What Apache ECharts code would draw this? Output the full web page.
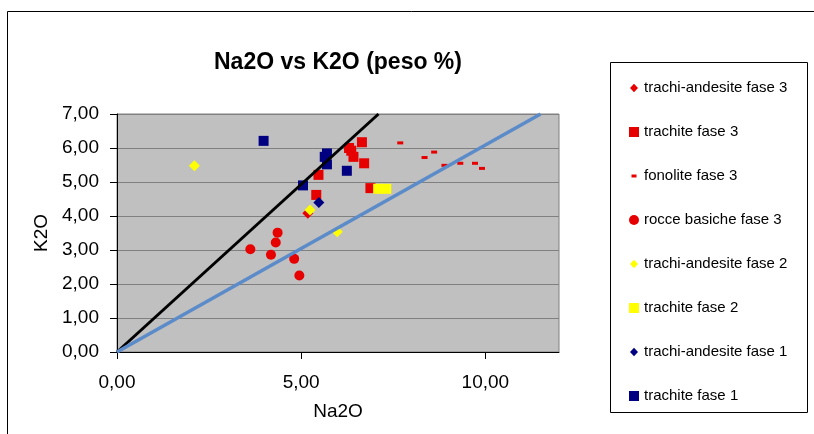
<!DOCTYPE html>
<html>
<head>
<meta charset="utf-8">
<script src="https://cdn.jsdelivr.net/npm/echarts@6/dist/echarts.min.js"></script>
<style>
html,body{margin:0;padding:0;background:#fff;}
#c{width:814px;height:434px;}
</style>
</head>
<body>
<div id="c"></div>
<script>
// ---- data ----
const xTicks = [0, 5, 10];
const yTicks = [0, 1, 2, 3, 4, 5, 6, 7];
const seriesNames = [
  'trachi-andesite fase 3', 'trachite fase 3', 'fonolite fase 3', 'rocce basiche fase 3',
  'trachi-andesite fase 2', 'trachite fase 2', 'trachi-andesite fase 1', 'trachite fase 1'
];
const trachiAndesite3 = [[5.18, 4.08]];
const trachite3 = [[5.47, 5.21], [5.41, 4.62], [6.65, 6.17], [6.30, 6.00], [6.36, 5.92], [6.42, 5.74], [6.71, 5.55], [6.88, 4.82]];
const fonolite3 = [[7.69, 6.15], [8.35, 5.72], [8.61, 5.88], [8.89, 5.49], [9.32, 5.55], [9.72, 5.55], [9.91, 5.40]];
const rocceBasiche3 = [[3.62, 3.02], [4.36, 3.51], [4.31, 3.22], [4.18, 2.86], [4.81, 2.74], [4.95, 2.25]];
const trachiAndesite2 = [[2.10, 5.48], [5.24, 4.18], [5.98, 3.54]];
const trachite2 = [[7.09, 4.80], [7.31, 4.80]];
const trachiAndesite1 = [[5.48, 4.40]];
const trachite1 = [[3.98, 6.21], [5.70, 5.84], [5.64, 5.74], [5.70, 5.52], [5.05, 4.90], [6.24, 5.33]];
const lineBlack = [[0, 0], [7.1, 7.0]];
const lineBlue = [[0, 0], [11.5, 7.0]];

// ---- styles ----
const RED = '#E60000', NAVY = '#000080', YEL = '#FFFF00';
const fmt = v => v.toFixed(2).replace('.', ',');
const FONT = 'Liberation Sans, Arial, sans-serif';
const diamondIcon = 'path://M0,0M10,10M5,0.8L9,5L5,9.2L1,5Z';
const dashIcon = 'path://M0,0M10,10M2.5,3.5L7.5,3.5L7.5,6.5L2.5,6.5Z';

function sc(name, data, symbol, size, color) {
  return { name, type: 'scatter', data, symbol, symbolSize: size,
    itemStyle: { color, opacity: 1 }, z: 3, emphasis: { disabled: true } };
}

const chart = echarts.init(document.getElementById('c'), null, { renderer: 'canvas' });
chart.setOption({
  animation: false,
  backgroundColor: '#fff',
  title: {
    text: 'Na2O vs K2O (peso %)', left: 214, top: 51, padding: 0,
    textStyle: { fontFamily: FONT, fontSize: 23, fontWeight: 'bold', color: '#000' }
  },
  graphic: [
    { type: 'rect', shape: { x: 7.5, y: 11.5, width: 900, height: 500 }, style: { fill: 'none', stroke: '#000', lineWidth: 1 }, z: -10, silent: true },
    { type: 'rect', shape: { x: 610.5, y: 62.5, width: 197, height: 350 }, style: { fill: '#fff', stroke: '#000', lineWidth: 1 }, z: -5, silent: true }
  ],
  legend: {
    orient: 'vertical', left: 624, top: 75, itemGap: 28,
    itemWidth: 10, itemHeight: 10,
    textStyle: { fontFamily: FONT, fontSize: 15, color: '#000', lineHeight: 16 },
    data: [
      { name: seriesNames[0], icon: diamondIcon },
      { name: seriesNames[1], icon: 'rect' },
      { name: seriesNames[2], icon: dashIcon },
      { name: seriesNames[3], icon: 'circle' },
      { name: seriesNames[4], icon: diamondIcon },
      { name: seriesNames[5], icon: 'rect' },
      { name: seriesNames[6], icon: diamondIcon },
      { name: seriesNames[7], icon: 'rect' }
    ]
  },
  grid: { left: 117, top: 114, width: 442, height: 238, show: true, backgroundColor: '#C0C0C0', borderColor: '#808080', borderWidth: 1 },
  xAxis: {
    type: 'value', min: 0, max: 12, interval: 5,
    name: 'Na2O', nameLocation: 'middle', nameGap: 50,
    nameTextStyle: { fontFamily: FONT, fontSize: 19, color: '#000' },
    axisLine: { onZero: false, lineStyle: { color: '#000', width: 1 } },
    axisTick: { show: true, length: 7, customValues: xTicks, lineStyle: { color: '#000' } },
    axisLabel: { margin: 21, customValues: xTicks, formatter: fmt, fontFamily: FONT, fontSize: 19, color: '#000' },
    splitLine: { show: false }
  },
  yAxis: {
    type: 'value', min: 0, max: 7, interval: 1,
    name: 'K2O', nameLocation: 'middle', nameGap: 58,
    nameTextStyle: { fontFamily: FONT, fontSize: 19, color: '#000' },
    axisLine: { show: true, onZero: false, lineStyle: { color: '#000', width: 1 } },
    axisTick: { show: true, length: 7, customValues: yTicks, lineStyle: { color: '#000' } },
    axisLabel: { margin: 18, customValues: yTicks, formatter: fmt, fontFamily: FONT, fontSize: 19, color: '#000' },
    splitLine: { show: true, lineStyle: { color: '#808080', width: 1 } }
  },
  series: [
    sc(seriesNames[0], trachiAndesite3, 'diamond', 11, RED),
    sc(seriesNames[1], trachite3, 'rect', 10, RED),
    sc(seriesNames[2], fonolite3, 'rect', [6, 3], RED),
    sc(seriesNames[3], rocceBasiche3, 'circle', 10, RED),
    sc(seriesNames[4], trachiAndesite2, 'diamond', 11, YEL),
    sc(seriesNames[5], trachite2, 'rect', 10, YEL),
    sc(seriesNames[6], trachiAndesite1, 'diamond', 11, NAVY),
    sc(seriesNames[7], trachite1, 'rect', 10, NAVY),
    { name: 'linea1', type: 'line', data: lineBlack, symbol: 'none', z: 4,
      lineStyle: { color: '#000', width: 3 }, emphasis: { disabled: true } },
    { name: 'linea2', type: 'line', data: lineBlue, symbol: 'none', z: 4,
      lineStyle: { color: '#5B8BC9', width: 3.5 }, emphasis: { disabled: true } }
  ]
});
</script>
</body>
</html>
